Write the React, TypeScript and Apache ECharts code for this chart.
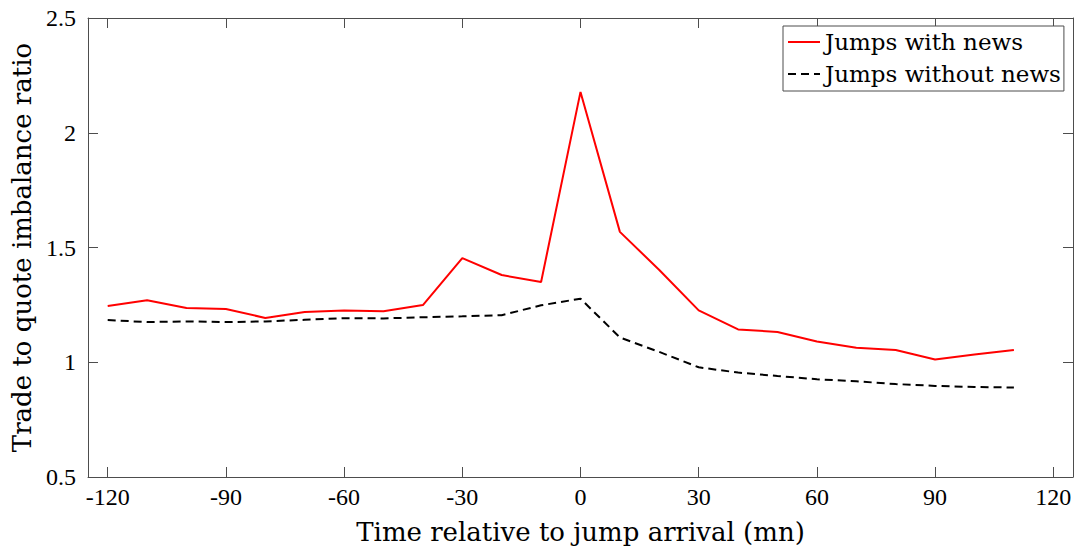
import React, { useEffect, useRef } from "react";
import * as echarts from "echarts";

const minutes = [-120, -110, -100, -90, -80, -70, -60, -50, -40, -30, -20, -10, 0, 10, 20, 30, 40, 50, 60, 70, 80, 90, 100, 110];
const withNews = [1.245, 1.27, 1.236, 1.232, 1.193, 1.219, 1.226, 1.222, 1.249, 1.454, 1.38, 1.35, 2.178, 1.568, 1.402, 1.226, 1.143, 1.132, 1.09, 1.063, 1.053, 1.012, 1.034, 1.053];
const withoutNews = [1.184, 1.175, 1.178, 1.175, 1.178, 1.185, 1.192, 1.191, 1.196, 1.2, 1.205, 1.248, 1.277, 1.108, 1.045, 0.978, 0.955, 0.94, 0.926, 0.917, 0.905, 0.897, 0.892, 0.89];
const xTicks = [-120, -90, -60, -30, 0, 30, 60, 90, 120];
const yTicks = [0.5, 1, 1.5, 2, 2.5];

const NUMFONT = "Liberation Serif";
const TXTFONT = "DejaVu Serif";

export default function App() {
  const ref = useRef<HTMLDivElement>(null);
  useEffect(() => {
    const chart = echarts.init(ref.current!, null, { renderer: "svg" });
    const axisLine = { show: true, onZero: false, lineStyle: { color: "#4d4d4d", width: 1 } };
    const tick = { show: true, inside: true, length: 10, lineStyle: { color: "#4d4d4d" } };
    chart.setOption({
      animation: false,
      backgroundColor: "#fff",
      grid: { left: 88, right: 4, top: 18, bottom: 73, containLabel: false, outerBoundsMode: "none" },
      legend: {
        show: true,
        left: 783,
        top: 26,
        orient: "vertical",
        backgroundColor: "#fff",
        borderColor: "#4d4d4d",
        borderWidth: 1,
        borderRadius: 0,
        padding: [3, 3, 4, 4],
        itemGap: 6,
        itemWidth: 32,
        itemHeight: 14,
        itemStyle: { opacity: 0 },
        textStyle: { fontFamily: TXTFONT, fontSize: 23, lineHeight: 26, color: "#000" },
        data: ["Jumps with news", "Jumps without news"],
      },
      xAxis: [
        {
          type: "value",
          min: -125,
          max: 125,
          position: "bottom",
          name: "Time relative to jump arrival (mn)",
          nameLocation: "middle",
          nameGap: 42,
          nameTextStyle: { fontFamily: TXTFONT, fontSize: 26, color: "#000" },
          axisLine,
          axisTick: { ...tick, customValues: xTicks },
          splitLine: { show: false },
          axisLabel: {
            fontFamily: NUMFONT,
            fontSize: 24,
            color: "#000",
            margin: 8,
            customValues: xTicks,
            formatter: (v: number) => String(v),
          },
        },
        {
          type: "value",
          min: -125,
          max: 125,
          position: "top",
          axisLine,
          axisTick: { ...tick, customValues: xTicks },
          axisLabel: { show: false, customValues: xTicks },
          splitLine: { show: false },
        },
      ],
      yAxis: [
        {
          type: "value",
          min: 0.5,
          max: 2.5,
          interval: 0.5,
          position: "left",
          name: "Trade to quote imbalance ratio",
          nameLocation: "middle",
          nameGap: 47,
          nameTextStyle: { fontFamily: TXTFONT, fontSize: 26, color: "#000" },
          axisLine,
          axisTick: tick,
          splitLine: { show: false },
          axisLabel: {
            fontFamily: NUMFONT,
            fontSize: 24,
            color: "#000",
            margin: 12,
            customValues: yTicks,
            formatter: (v: number) => String(v),
          },
        },
        {
          type: "value",
          min: 0.5,
          max: 2.5,
          interval: 0.5,
          position: "right",
          axisLine,
          axisTick: tick,
          axisLabel: { show: false },
          splitLine: { show: false },
        },
      ],
      series: [
        {
          name: "Jumps with news",
          type: "line",
          symbol: "none",
          xAxisIndex: 0,
          yAxisIndex: 0,
          data: minutes.map((m, i) => [m, withNews[i]]),
          lineStyle: { color: "#ff0000", width: 2 },
          itemStyle: { color: "#ff0000" },
        },
        {
          name: "Jumps without news",
          type: "line",
          symbol: "none",
          xAxisIndex: 0,
          yAxisIndex: 0,
          data: minutes.map((m, i) => [m, withoutNews[i]]),
          lineStyle: { color: "#000", width: 2, type: [8, 5] },
          itemStyle: { color: "#000" },
        },
      ],
    });
    return () => chart.dispose();
  }, []);
  return (
    <div
      ref={ref}
      style={{ position: "fixed", left: 0, top: 0, width: 1077, height: 550, background: "#fff" }}
    />
  );
}
